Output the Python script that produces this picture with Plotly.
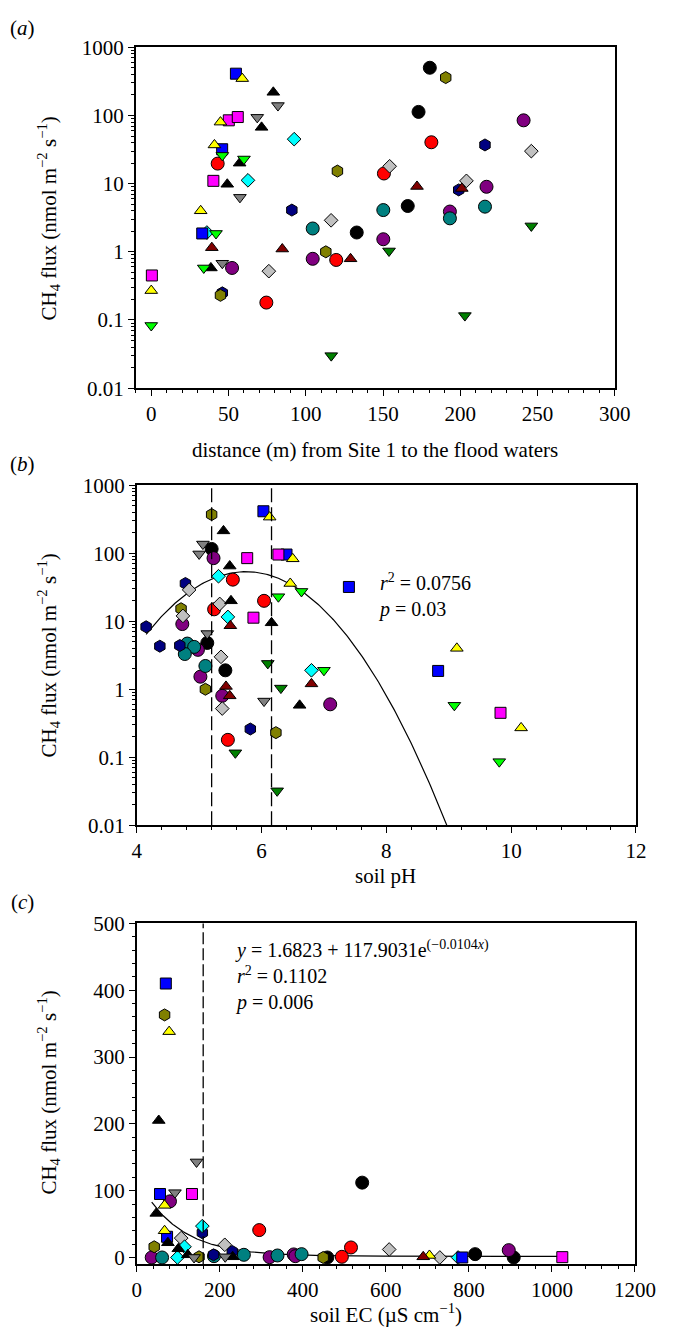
import plotly.graph_objects as go
import numpy as np

# ---------------- data ----------------
# series style keys
SERIES = ["BC", "RC", "PC", "TC", "NH", "OH", "GD", "CD", "BS", "MS", "YT", "KT", "DT", "GV", "LV", "DV"]
SYMBOL = {"BC": "circle", "RC": "circle", "PC": "circle", "TC": "circle",
          "NH": "hexagon", "OH": "hexagon", "GD": "diamond", "CD": "diamond",
          "BS": "square", "MS": "square", "YT": "triangle-up", "KT": "triangle-up",
          "DT": "triangle-up", "GV": "triangle-down", "LV": "triangle-down", "DV": "triangle-down"}
COLOR = {"BC": "#000000", "RC": "#ff0000", "PC": "#800080", "TC": "#008080",
         "NH": "#000080", "OH": "#808000", "GD": "#c0c0c0", "CD": "#00ffff",
         "BS": "#0000ff", "MS": "#ff00ff", "YT": "#ffff00", "KT": "#000000",
         "DT": "#800000", "GV": "#808080", "LV": "#00ff00", "DV": "#008000"}

# panel (a): distance (m) vs CH4 flux
a_group = ["BS", "BS", "BS",
           "YT", "YT", "YT", "YT", "YT",
           "KT", "KT", "KT", "KT", "KT",
           "GV", "GV", "GV", "GV",
           "MS", "MS", "MS", "MS",
           "CD", "CD", "CD",
           "LV", "LV", "LV", "LV", "LV",
           "RC", "RC", "RC", "RC", "RC",
           "NH", "NH", "NH", "NH",
           "BC", "BC", "BC", "BC",
           "OH", "OH", "OH", "OH",
           "GD", "GD", "GD", "GD", "GD",
           "DT", "DT", "DT", "DT", "DT",
           "TC", "TC", "TC", "TC",
           "PC", "PC", "PC", "PC", "PC", "PC",
           "DV", "DV", "DV", "DV"]
a_dist = [54.8, 45.9, 33,
          58.9, 44.8, 40.9, 32, 0,
          79, 71.4, 57.2, 49.2, 38.6,
          82, 68.6, 57.4, 46,
          50.2, 56, 40.2, 0.4,
          92.5, 62.6, 36,
          60, 46, 41.9, 34, 0,
          43, 74.5, 181.3, 150.6, 119.7,
          91, 46, 199, 216,
          180.3, 173, 166, 133,
          190.6, 120.5, 113, 44.8,
          154.3, 204, 116.4, 76.1, 246,
          172, 39.2, 84.8, 129, 201,
          150.2, 193.3, 104.5, 216,
          193.3, 150.2, 104.5, 52.3, 241, 217,
          153.9, 116.5, 203, 246]
a_flux = [411, 32, 1.86,
          348, 80, 37, 4.0, 0.27,
          219, 67, 20, 9.8, 0.58,
          140, 94, 6.3, 0.68,
          85, 95, 11, 0.45,
          45, 11.2, 1.92,
          23, 26, 1.86, 0.58, 0.083,
          19.7, 0.18, 40.5, 14.1, 0.76,
          4.1, 0.25, 8.1, 37,
          502, 113, 4.7, 1.92,
          360, 15.3, 1.0, 0.23,
          18, 11, 2.9, 0.52, 30,
          9.1, 1.15, 1.1, 0.79, 8.5,
          4.1, 3.1, 2.2, 4.6,
          3.9, 1.53, 0.79, 0.58, 85, 9,
          1.03, 0.03, 0.116, 2.4]

# panel (b): soil pH vs CH4 flux
b_group = ["OH"] * 4 + ["KT"] * 5 + ["GV"] * 4 + ["BC"] * 3 + ["PC"] * 6 + ["MS"] * 4 + \
          ["CD"] * 3 + ["RC"] * 4 + ["BS"] * 4 + ["YT"] * 5 + ["NH"] * 5 + ["GD"] * 5 + \
          ["LV"] * 5 + ["TC"] * 4 + ["DT"] * 4 + ["DV"] * 4
b_ph = [5.20, 4.71, 5.10, 6.23,
        5.39, 5.49, 5.51, 6.16, 6.61,
        5.06, 5.00, 5.13, 6.04,
        5.20, 5.13, 5.42,
        5.23, 4.73, 4.98, 5.02, 5.37, 7.10,
        5.77, 6.27, 5.87, 9.83,
        5.31, 5.46, 6.80,
        5.54, 6.04, 5.24, 5.46,
        6.03, 6.40, 8.83, 7.40,
        6.13, 6.50, 6.46, 9.13, 10.16,
        4.78, 4.15, 4.37, 4.69, 5.82,
        4.84, 5.33, 4.74, 5.35, 5.37,
        6.27, 6.64, 9.09, 9.81, 7.00,
        4.81, 4.92, 4.77, 5.10,
        5.50, 5.43, 5.49, 6.80,
        6.10, 6.31, 5.58, 6.25]
b_flux = [372, 15.3, 1.0, 0.23,
          214, 65, 20, 9.5, 0.58,
          137, 98, 6.6, 0.67,
          116, 4.8, 1.9,
          85, 9.1, 3.8, 1.53, 0.8, 0.6,
          85, 96, 11.3, 0.45,
          46, 11.6, 1.9,
          41, 20, 15, 0.18,
          416, 96, 1.86, 32,
          341, 83, 36, 4.0, 0.27,
          36, 8.3, 4.3, 4.4, 0.26,
          29, 18, 12, 3.0, 0.52,
          23, 27.5, 0.58, 0.086, 1.9,
          4.7, 4.2, 3.3, 2.2,
          8.6, 1.1, 0.8, 1.2,
          2.4, 1.04, 0.116, 0.032]

# panel (c): soil EC vs CH4 flux
c_group = ["BS"] * 4 + ["OH"] * 4 + ["YT"] * 4 + ["KT"] * 6 + ["GV"] * 4 + ["MS"] * 2 + \
          ["PC"] * 6 + ["RC"] * 3 + ["CD"] * 4 + ["NH"] * 3 + ["GD"] * 4 + ["TC"] * 5 + \
          ["BC"] * 4 + ["DT"] * 1
c_ec = [70, 56, 73, 784,
        67, 42, 150, 449,
        78, 67, 67, 705,
        53, 47, 75, 100, 123, 231,
        144, 92, 138, 213,
        133, 1025,
        80, 36, 320, 378, 382, 896,
        295, 494, 516,
        158, 115, 98, 774,
        158, 185, 230,
        107, 212, 608, 730,
        61, 186, 258, 339, 397,
        543, 459, 815, 908,
        690]
c_flux = [410, 95, 31, 0,
          363, 16, 1, 0,
          338, 78, 40, 3,
          205, 66, 22, 13, 4, 1,
          143, 97, 0, 1,
          95, 0.5,
          84, 0, 0.5, 4.6, 2, 11,
          41, 1, 15,
          47, 16, 0, 0,
          37, 4, 9,
          29, 19, 12, 0,
          0, 2, 4, 3, 5,
          112, 0, 5, 0,
          1]

# fitted models
B_PEAK_PH, B_PEAK_LOG, B_CURV, B_PH_START = 5.75, 1.73, 0.36, 4.15
C_A, C_B, C_K, C_EC_START, C_EC_END = 1.6823, 117.9031, 0.0104, 36, 1025
B_DASH = [5.2, 6.16]
C_DASH = [160]

# ---------------- layout helpers ----------------
W, H = 680, 1340
FONT = "Liberation Serif"


def px(x):
    return x / W


def py(y):
    return 1 - y / H


PANELS = {
    "a": dict(x0=136, x1=634, y0=36, y1=383),
    "b": dict(x0=137, x1=656, y0=482, y1=828),
    "c": dict(x0=137, x1=655, y0=928, y1=1275),
}

fig = go.Figure()


def add_points(xs, ys, groups, xa, ya):
    for s in SERIES:
        idx = [i for i, g in enumerate(groups) if g == s]
        if not idx:
            continue
        sym = SYMBOL[s]
        size = {"circle": 13, "hexagon": 12, "diamond": 10.5, "square": 11,
                "triangle-up": 11, "triangle-down": 11}[sym]
        fig.add_trace(go.Scatter(
            x=[xs[i] for i in idx], y=[ys[i] for i in idx], mode="markers",
            xaxis=xa, yaxis=ya, showlegend=False,
            marker=dict(symbol=sym, size=size, color=COLOR[s],
                        line=dict(color="#000000", width=1))))


# fitted curves (drawn under markers)
b_x = np.linspace(B_PH_START, 9.0, 200)
b_y = 10 ** (B_PEAK_LOG - B_CURV * (b_x - B_PEAK_PH) ** 2)
fig.add_trace(go.Scatter(x=b_x, y=b_y, mode="lines", xaxis="x2", yaxis="y2",
                         line=dict(color="black", width=1.2), showlegend=False))
c_x = np.linspace(C_EC_START, C_EC_END, 300)
c_y = C_A + C_B * np.exp(-C_K * c_x)
fig.add_trace(go.Scatter(x=c_x, y=c_y, mode="lines", xaxis="x3", yaxis="y3",
                         line=dict(color="black", width=1.2), showlegend=False))

add_points(a_dist, a_flux, a_group, "x", "y")
add_points(b_ph, b_flux, b_group, "x2", "y2")
add_points(c_ec, c_flux, c_group, "x3", "y3")

# dashed reference lines
for v in B_DASH:
    fig.add_shape(type="line", xref="x2", yref="y2 domain", x0=v, x1=v, y0=0, y1=1,
                  line=dict(color="black", width=1.3, dash="14px,5px"))
for v in C_DASH:
    fig.add_shape(type="line", xref="x3", yref="y3 domain", x0=v, x1=v, y0=0, y1=1,
                  line=dict(color="black", width=1.3, dash="12px,4px"))

log_major = [0.01, 0.1, 1, 10, 100, 1000]
log_text = ["0.01", "0.1", "1", "10", "100", "1000"]
log_minor = [k * 10.0 ** e for e in range(-2, 3) for k in range(2, 10)]

common = dict(showline=True, linecolor="black", linewidth=1.5, mirror=True,
              ticks="outside", ticklen=6, tickwidth=1.2, tickcolor="black",
              showgrid=False, zeroline=False,
              tickfont=dict(family=FONT, size=21, color="black"))


def dom(p):
    d = PANELS[p]
    return [px(d["x0"]), px(d["x1"])], [py(d["y1"]), py(d["y0"])]


xa, ya = dom("a")
xb, yb = dom("b")
xc, yc = dom("c")

fig.update_layout(
    width=W, height=H, margin=dict(l=0, r=0, t=0, b=0),
    paper_bgcolor="white", plot_bgcolor="white",
    xaxis=dict(domain=xa, anchor="y", range=[-10, 300], tickvals=list(range(0, 301, 50)),
               minor=dict(ticks="outside", ticklen=3.5, tickcolor="black", dtick=10, tick0=0),
               **common),
    yaxis=dict(domain=ya, anchor="x", type="log", range=[-2, 3], tickvals=log_major, ticktext=log_text,
               minor=dict(ticks="outside", ticklen=3.5, tickcolor="black", tickvals=log_minor),
               **common),
    xaxis2=dict(domain=xb, anchor="y2", range=[4, 12], tickvals=[4, 6, 8, 10, 12],
                minor=dict(ticks="outside", ticklen=3.5, tickcolor="black", dtick=0.4, tick0=4),
                **common),
    yaxis2=dict(domain=yb, anchor="x2", type="log", range=[-2, 3], tickvals=log_major, ticktext=log_text,
                minor=dict(ticks="outside", ticklen=3.5, tickcolor="black", tickvals=log_minor),
                **common),
    xaxis3=dict(domain=xc, anchor="y3", range=[0, 1200], tickvals=list(range(0, 1201, 200)),
                minor=dict(ticks="outside", ticklen=3.5, tickcolor="black", dtick=40, tick0=0),
                **common),
    yaxis3=dict(domain=yc, anchor="x3", range=[-10, 500], tickvals=list(range(0, 501, 100)),
                minor=dict(ticks="outside", ticklen=3.5, tickcolor="black", dtick=20, tick0=0),
                **common),
)

ytitle = "CH<sub>4</sub> flux (nmol m<sup>−2</sup> s<sup>−1</sup>)"
anns = [
    dict(text="(<i>a</i>)", x=px(18), y=py(16)),
    dict(text="(<i>b</i>)", x=px(18), y=py(460)),
    dict(text="(<i>c</i>)", x=px(18), y=py(906)),
    dict(text="distance (m) from Site 1 to the flood waters", x=px(385), y=py(446)),
    dict(text="soil pH", x=px(396), y=py(880)),
    dict(text="soil EC (µS cm<sup>−1</sup>)", x=px(396), y=py(1325)),
    dict(text=ytitle, x=px(45), y=py(210), textangle=-90),
    dict(text=ytitle, x=px(45), y=py(655), textangle=-90),
    dict(text=ytitle, x=px(45), y=py(1100), textangle=-90),
]
for a in anns:
    fig.add_annotation(xref="paper", yref="paper", showarrow=False,
                       font=dict(family=FONT, size=21, color="black"),
                       xanchor="center", yanchor="middle", **a)

stats = [
    ("<i>r</i><sup>2</sup> = 0.0756<br><i>p</i> = 0.03", 386, 566),
    ("<i>y</i> = 1.6823 + 117.9031e<sup>(−0.0104<i>x</i>)</sup><br>"
     "<i>r</i><sup>2</sup> = 0.1102<br><i>p</i> = 0.006", 237, 940),
]
for t, x, y in stats:
    fig.add_annotation(xref="paper", yref="paper", showarrow=False, text=t,
                       x=px(x), y=py(y), xanchor="left", yanchor="top", align="left",
                       font=dict(family=FONT, size=20, color="black"))

fig.write_html("out.html")
